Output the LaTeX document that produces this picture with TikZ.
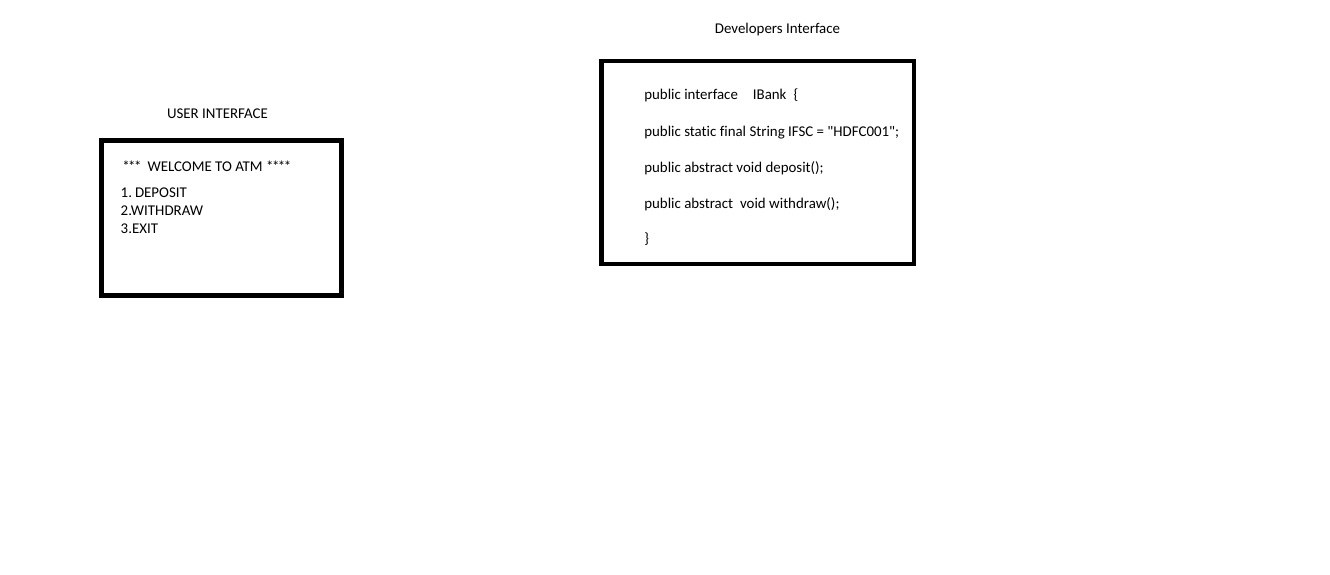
\documentclass[tikz,border=0pt]{standalone}
\usepackage{fontspec}
\setmainfont{Carlito}[Ligatures={NoCommon}]
\begin{document}
\begin{tikzpicture}[x=1pt,y=-1pt,
  lbl/.style={inner sep=0pt,outer sep=0pt,anchor=base west,font=\fontsize{14.9}{16}\selectfont},
  ttl/.style={inner sep=0pt,outer sep=0pt,anchor=base,font=\fontsize{14.9}{16}\selectfont},
  frame/.style={draw=black,line width=4.5pt,fill=white}]
\useasboundingbox[fill=white] (0,0) rectangle (1330,574);
% user interface
\node[ttl] (uit) at (217.5,118.3) {USER INTERFACE};
\draw[frame] (101.5,140.5) rectangle (341.5,295.5);
\node[lbl] (u0) at (122.3,171) {*\kern-1.5pt*\kern-1.5pt*\hspace{0.4em}WELCOME TO ATM *\kern-1.5pt*\kern-1.5pt*\kern-1.5pt*};
\node[lbl] (u1) at (120.7,197.7) {1.\hspace{3pt}DEPOSIT};
\node[lbl] (u2) at (120.7,215.7) {2.WITHDRAW};
\node[lbl] (u3) at (120.7,233.3) {3.EXIT};
% developers interface
\node[ttl] (dit) at (777.5,33.3) {Developers Interface};
\draw[frame] (601.5,61) rectangle (914,264);
\node[lbl] (d0) at (644.3,99.7) {public interface\hspace{15pt}IBank\hspace{7pt}\{};
\node[lbl] (d1) at (644.3,136) {public static final String IFSC = \textquotedbl HDFC001\textquotedbl;};
\node[lbl] (d2) at (644.3,172.3) {public abstract void deposit();};
\node[lbl] (d3) at (644.3,208.3) {public abstract\hspace{7pt}void withdraw();};
\node[lbl] (d4) at (644.3,243) {\}};
\end{tikzpicture}
\end{document}
